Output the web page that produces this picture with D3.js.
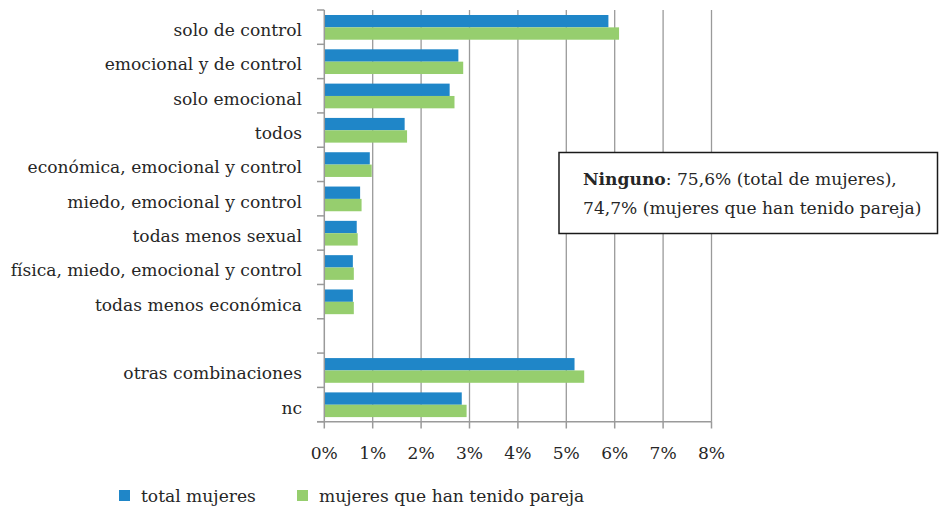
<!DOCTYPE html>
<html><head><meta charset="utf-8">
<script src="https://cdn.jsdelivr.net/npm/d3@7"></script>
<style>body{margin:0;background:#fff;} svg{display:block;} text{font-family:"DejaVu Serif",serif;fill:#262626;}</style>
</head><body>
<svg id="c" width="939" height="508"></svg>
<script>
const categories = ["solo de control","emocional y de control","solo emocional","todos","económica, emocional y control","miedo, emocional y control","todas menos sexual","física, miedo, emocional y control","todas menos económica","","otras combinaciones","nc"];
const totalMujeres = [5.87,2.77,2.59,1.66,0.94,0.74,0.67,0.59,0.59,null,5.17,2.84];
const conPareja = [6.09,2.87,2.69,1.71,0.98,0.77,0.69,0.61,0.61,null,5.37,2.94];
const xTicks = [0,1,2,3,4,5,6,7,8];
const seriesNames = ["total mujeres","mujeres que han tenido pareja"];
const colors = ["#1f86c8","#96ce6e"];
const FS = 17.1;

const svg = d3.select("#c");
const x = d3.scaleLinear().domain([0,8]).range([324.3,711.5]);
const y = d3.scaleBand().domain(d3.range(categories.length)).range([10,421.7]).paddingInner(0).paddingOuter(0);
const y2 = d3.scaleBand().domain([0,1]).range([5,y.bandwidth()-4.6]);

// gridlines
svg.append("g").selectAll("line").data(xTicks.slice(1)).join("line")
  .attr("x1",d=>x(d)).attr("x2",d=>x(d)).attr("y1",10).attr("y2",421.7)
  .attr("stroke","#9a9a9a").attr("stroke-width",1.3);

// bars
const rows = svg.append("g").selectAll("g").data(categories.map((c,i)=>({c,i}))).join("g")
  .attr("transform",d=>`translate(0,${y(d.i)})`);
[totalMujeres,conPareja].forEach((arr,s)=>{
  rows.filter(d=>arr[d.i]!=null).append("rect")
    .attr("x",x(0)).attr("y",y2(s)).attr("width",d=>x(arr[d.i])-x(0)).attr("height",y2.bandwidth())
    .attr("fill",colors[s]);
});

// y axis
const yAx = svg.append("g");
yAx.append("line").attr("x1",x(0)).attr("x2",x(0)).attr("y1",10).attr("y2",421.7).attr("stroke","#9a9a9a").attr("stroke-width",1.5);
yAx.selectAll("line.t").data(d3.range(categories.length+1)).join("line").attr("class","t")
  .attr("x1",317).attr("x2",x(0)).attr("y1",d=>10+d*y.bandwidth()).attr("y2",d=>10+d*y.bandwidth())
  .attr("stroke","#9a9a9a").attr("stroke-width",1.5);
yAx.selectAll("text").data(categories.map((c,i)=>({c,i}))).join("text")
  .attr("x",302).attr("y",d=>y(d.i)+y.bandwidth()/2+9).attr("text-anchor","end")
  .attr("font-size",FS).text(d=>d.c);

// x axis
const xAx = svg.append("g");
xAx.append("line").attr("x1",317).attr("x2",711.5).attr("y1",421.7).attr("y2",421.7).attr("stroke","#9a9a9a").attr("stroke-width",1.5);
xAx.selectAll("line.t").data(xTicks).join("line").attr("class","t")
  .attr("x1",d=>x(d)).attr("x2",d=>x(d)).attr("y1",421.7).attr("y2",428.5).attr("stroke","#9a9a9a").attr("stroke-width",1.5);
xAx.selectAll("text").data(xTicks).join("text")
  .attr("x",d=>x(d)).attr("y",458.5).attr("text-anchor","middle").attr("font-size",FS).text(d=>d+"%");

// annotation
const ann = svg.append("g");
ann.append("rect").attr("x",559).attr("y",152.5).attr("width",378.5).attr("height",81).attr("fill","#fff").attr("stroke","#1a1a1a").attr("stroke-width",1.5);
const t1 = ann.append("text").attr("x",583).attr("y",185).attr("font-size",FS);
t1.append("tspan").attr("font-weight","bold").text("Ninguno");
t1.append("tspan").text(": 75,6% (total de mujeres),");
ann.append("text").attr("x",583).attr("y",213.5).attr("font-size",FS).text("74,7% (mujeres que han tenido pareja)");

// legend
const lg = svg.append("g");
const lx = [119,297];
seriesNames.forEach((n,i)=>{
  lg.append("rect").attr("x",lx[i]).attr("y",490).attr("width",11).attr("height",11).attr("fill",colors[i]);
  lg.append("text").attr("x",lx[i]+22).attr("y",502).attr("font-size",FS).text(n);
});
</script>
</body></html>
